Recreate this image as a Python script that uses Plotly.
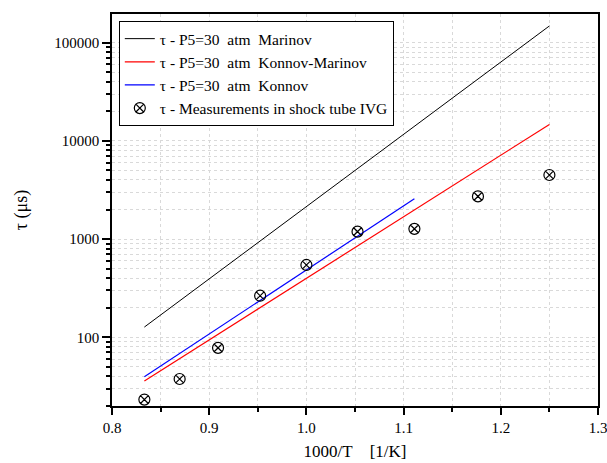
import plotly.graph_objects as go

# measurements in shock tube IVG
meas_x = [0.8333, 0.8696, 0.9091, 0.9524, 1.0, 1.0526, 1.1111, 1.1765, 1.25]
meas_tau = [23.2, 37.6, 78, 265, 545, 1190, 1270, 2720, 4490]

# model lines (straight in log-space, endpoints)
marinov_x = [0.8333, 1.25]
marinov_tau = [127, 148000]
konmar_x = [0.8333, 1.25]
konmar_tau = [35.9, 14700]
konnov_x = [0.8333, 1.1111]
konnov_tau = [39.7, 2570]

nb = "\u00a0"
names = [
    f"τ - P5=30{nb*2}atm{nb*2}Marinov",
    f"τ - P5=30{nb*2}atm{nb*2}Konnov-Marinov",
    f"τ - P5=30{nb*2}atm{nb*2}Konnov",
    f"τ - Measurements in shock tube IVG",
]

serif = "Liberation Serif"

fig = go.Figure()
fig.add_trace(go.Scatter(x=marinov_x, y=marinov_tau, mode="lines",
                         line=dict(color="black", width=1), name=names[0]))
fig.add_trace(go.Scatter(x=konmar_x, y=konmar_tau, mode="lines",
                         line=dict(color="red", width=1.2), name=names[1]))
fig.add_trace(go.Scatter(x=konnov_x, y=konnov_tau, mode="lines",
                         line=dict(color="blue", width=1.2), name=names[2]))
fig.add_trace(go.Scatter(x=meas_x, y=meas_tau, mode="markers",
                         marker=dict(symbol="circle-x-open", size=11, color="black",
                                     line=dict(width=1.2)),
                         name=names[3]))

minor_y = [k * 10 ** e for e in range(1, 6) for k in range(2, 10)]
major_y = [100, 1000, 10000, 100000]
grid = "#d9d9d9"

fig.update_layout(
    width=607, height=463,
    margin=dict(l=112, r=9, t=14, b=57),
    paper_bgcolor="white", plot_bgcolor="white",
    font=dict(family=serif, size=15, color="black"),
    legend=dict(x=0.014, y=0.982, xanchor="left", yanchor="top",
                bgcolor="white", bordercolor="black", borderwidth=1,
                font=dict(family=serif, size=15.5), tracegroupgap=0,
                itemwidth=30),
)

fig.update_xaxes(
    range=[0.8, 1.3], tickvals=[0.8, 0.9, 1.0, 1.1, 1.2, 1.3],
    ticktext=["0.8", "0.9", "1.0", "1.1", "1.2", "1.3"],
    ticklabeloverflow="allow",
    ticks="outside", ticklen=7, tickwidth=1.5, tickcolor="black",
    showline=True, linecolor="black", linewidth=1.5, mirror=True,
    showgrid=True, gridcolor=grid, griddash="dot", gridwidth=1,
    minor=dict(dtick=0.05, ticks="outside", ticklen=4, tickcolor="black",
               showgrid=True, gridcolor=grid, griddash="dot"),
    zeroline=False, automargin=False,
    title=dict(text=f"1000/T{nb*4}[1/K]", font=dict(family=serif, size=17), standoff=10),
)
fig.update_yaxes(
    type="log", range=[1.30, 5.292],
    tickvals=major_y, ticktext=[str(v) for v in major_y],
    ticks="outside", ticklen=8, tickwidth=1.5, tickcolor="black",
    showline=True, linecolor="black", linewidth=1.5, mirror=True,
    showgrid=True, gridcolor=grid, griddash="dot", gridwidth=1,
    minor=dict(tickvals=minor_y, ticks="outside", ticklen=4, tickcolor="black",
               showgrid=True, gridcolor=grid, griddash="dot"),
    zeroline=False, automargin=False,
    title=dict(text="τ (μs)", font=dict(family=serif, size=18), standoff=22),
)

# drop the default page margin so the figure sits at the window's corner
fig.write_html("out.html", config={"displayModeBar": False},
               post_script="document.body.style.margin='0';")
